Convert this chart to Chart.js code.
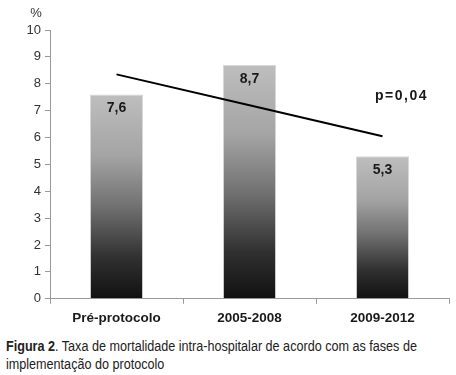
<!DOCTYPE html>
<html><head><meta charset="utf-8">
<script src="https://cdn.jsdelivr.net/npm/chart.js@4"></script>
<style>
html,body{margin:0;padding:0;background:#fff;overflow:hidden;}
#wrap{position:relative;width:456px;height:332px;}
#cap{font-family:"Liberation Sans",Arial,sans-serif;font-size:14px;color:#222;line-height:18px;margin:5px 0 0 6px;white-space:nowrap;transform:scaleX(0.9);transform-origin:0 0;}
</style></head><body>
<div id="wrap"><canvas id="c" width="456" height="332"></canvas></div>
<div id="cap"><b>Figura 2</b>. Taxa de mortalidade intra-hospitalar de acordo com as fases de<br>implementação do protocolo</div>
<script>
const categories = ["Pré-protocolo", "2005-2008", "2009-2012"];
const mortality = [7.6, 8.7, 5.3];
const valueLabels = ["7,6", "8,7", "5,3"];
const trend = [8.35, 7.2, 6.05];
const yTicks = [0,1,2,3,4,5,6,7,8,9,10];
const pText = "p=0,04";

const FONT = "'Liberation Sans', Arial, sans-serif";

function barGradient(ctx){
  const chart = ctx.chart;
  const ys = chart.scales.y;
  if(!ys || !ctx.parsed) return '#777';
  const top = ys.getPixelForValue(ctx.parsed.y);
  const bot = ys.getPixelForValue(0);
  if(!isFinite(top) || !isFinite(bot)) return '#777';
  const g = chart.ctx.createLinearGradient(0, top, 0, bot);
  g.addColorStop(0, '#bebebe');
  g.addColorStop(0.3, '#a4a4a4');
  g.addColorStop(0.55, '#707070');
  g.addColorStop(0.8, '#303030');
  g.addColorStop(1, '#111111');
  return g;
}

const labelPlugin = {
  id:'labels',
  afterDatasetsDraw(chart){
    const c = chart.ctx;
    const meta = chart.getDatasetMeta(1);
    c.save();
    c.font = "bold 14px " + FONT;
    c.fillStyle = '#1a1a1a';
    c.textAlign = 'center';
    c.textBaseline = 'middle';
    meta.data.forEach((el,i)=>{
      c.fillText(valueLabels[i], el.x, el.y + 14);
    });
    const xs = chart.scales.x, ys = chart.scales.y;
    c.letterSpacing = '1.5px';
    c.fillText(pText, xs.getPixelForValue(2) + 19, ys.getPixelForValue(7.55));
    c.letterSpacing = '0px';
    c.font = "13px " + FONT;
    c.fillStyle = '#333';
    c.fillText('%', chart.chartArea.left - 14, ys.getPixelForValue(10) - 17);
    c.restore();
  }
};

new Chart(document.getElementById('c'), {
  data:{
    labels: categories,
    datasets:[
      {type:'line', data: trend, borderColor:'#000', borderWidth:2, pointRadius:0, fill:false, order:0},
      {type:'bar', data: mortality, backgroundColor: barGradient, borderColor:'#d8d8d8', borderWidth:{left:1,right:1,top:1,bottom:0}, barPercentage:0.4, categoryPercentage:1.0, order:1}
    ]
  },
  options:{
    responsive:false,
    animation:false,
    events:[],
    layout:{padding:{top:30,right:7,left:0,bottom:0}},
    plugins:{legend:{display:false}, tooltip:{enabled:false}},
    scales:{
      x:{
        grid:{display:true, drawOnChartArea:false, drawTicks:true, tickLength:5, color:'#999', offset:true},
        border:{color:'#999'},
        ticks:{font:{family:FONT, size:13.5, weight:'bold'}, color:'#1a1a1a', padding:6}
      },
      y:{
        min:0, max:10,
        afterBuildTicks(s){ s.ticks = yTicks.map(v=>({value:v})); },
        afterFit(s){ s.width = 50; },
        grid:{display:true, drawOnChartArea:false, drawTicks:true, tickLength:5, color:'#999'},
        border:{color:'#999'},
        ticks:{font:{family:FONT, size:13}, color:'#333', padding:4}
      }
    }
  },
  plugins:[labelPlugin]
});
</script>
</body></html>
